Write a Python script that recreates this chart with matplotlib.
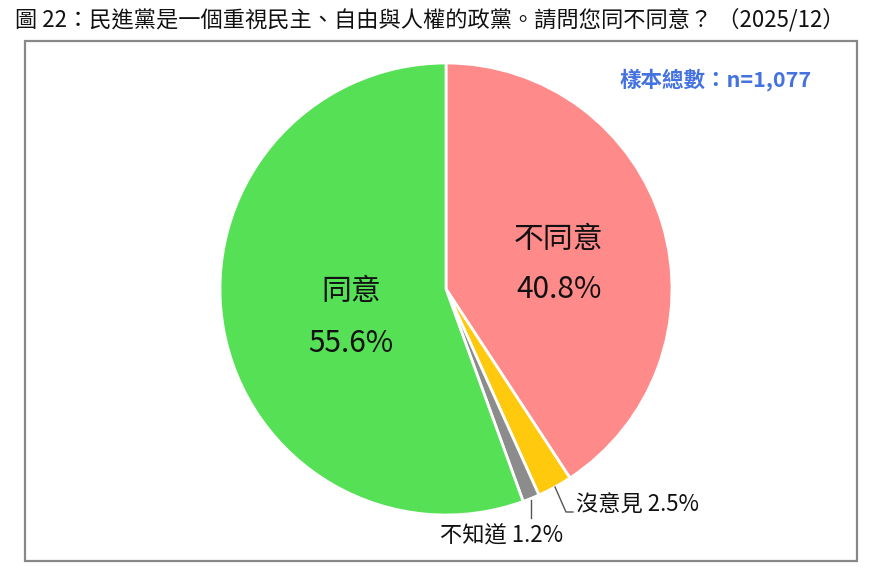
import matplotlib
matplotlib.use("Agg")
import matplotlib.pyplot as plt
from matplotlib.patches import Rectangle

plt.rcParams['font.family'] = ['Noto Sans CJK TC', 'DejaVu Sans']

labels = ['不同意', '沒意見', '不知道', '同意']
values = [40.8, 2.5, 1.2, 55.6]
colors = ['#FF8A8A', '#FFC90E', '#8C8C8C', '#55E055']
title = '圖 22：民進黨是一個重視民主、自由與人權的政黨。請問您同不同意？ （2025/12）'
sample_text = '樣本總數：n=1,077'

W, H = 875, 577
fig = plt.figure(figsize=(W / 100, H / 100), dpi=100)

def fx(x):
    return x / W

def fy(y):
    return 1 - y / H

# frame
fig.patches.append(Rectangle((fx(25), fy(561)), fx(857) - fx(25), fy(41) - fy(561),
                             transform=fig.transFigure, fill=False,
                             edgecolor='#888888', linewidth=1.6))

cx, cy, r = 446, 289, 226
ax = fig.add_axes([fx(cx - r), fy(cy + r), 2 * r / W, 2 * r / H])
ax.pie(values, colors=colors, startangle=90, counterclock=False,
       wedgeprops=dict(edgecolor='white', linewidth=2))
ax.set_xlim(-1, 1)
ax.set_ylim(-1, 1)
ax.axis('off')

fig.text(fx(15), fy(20), title, fontsize=16, va='center', ha='left', color='#111111')
fig.text(fx(812), fy(80), sample_text, fontsize=15.5, va='center', ha='right',
         color='#4472E0', fontweight='bold')

big = dict(fontsize=21.5, ha='center', va='center', color='#111111', fontweight='medium')
fig.text(fx(559), fy(239), labels[0], **big)
fig.text(fx(559), fy(289), f'{values[0]}%', **big)
fig.text(fx(351), fy(292), labels[3], **big)
fig.text(fx(351), fy(343), f'{values[3]}%', **big)

# leader lines
fig.add_artist(plt.Line2D([fx(555), fx(566), fx(573)], [fy(487), fy(512), fy(512)],
                          transform=fig.transFigure, color='#555555', linewidth=1))
fig.add_artist(plt.Line2D([fx(531), fx(531)], [fy(500), fy(518)],
                          transform=fig.transFigure, color='#555555', linewidth=1))
small = dict(fontsize=16, ha='left', va='center', color='#111111')
fig.text(fx(576), fy(505), f'{labels[1]} {values[1]}%', **small)
fig.text(fx(440), fy(536), f'{labels[2]} {values[2]}%', **small)

fig.savefig('out.png', dpi=100, facecolor='white')
